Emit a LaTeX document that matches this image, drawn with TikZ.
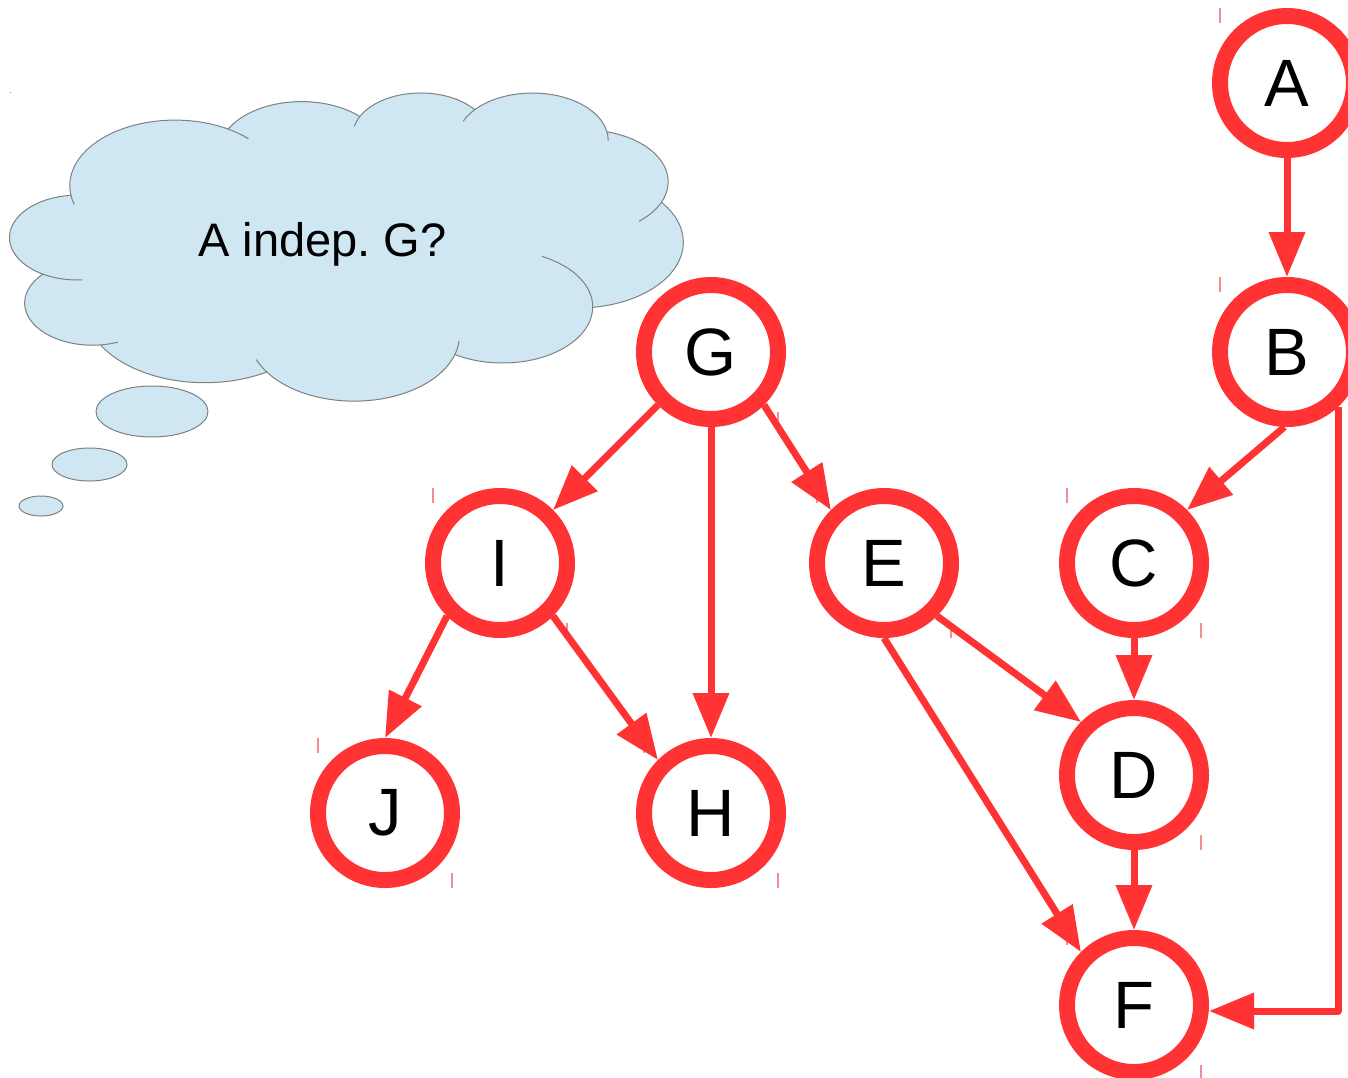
\documentclass[tikz,border=0pt]{standalone}
\usepackage{fontspec}
\setmainfont{Liberation Sans}
\usetikzlibrary{arrows.meta}

\definecolor{nodered}{RGB}{255,51,51}
\definecolor{tickred}{RGB}{244,140,146}
\definecolor{cloudfill}{RGB}{207,230,243}
\definecolor{cloudline}{RGB}{128,128,128}

% one crease of the cloud: centre, start angle, end angle, x radius, y radius
\newcommand\creasearc[5]{%
  \draw[cloudcrease] (#1) ++(#2:#4 and #5)
    arc[start angle=#2, end angle=#3, x radius=#4, y radius=#5];}

\begin{document}
\begin{tikzpicture}[x=0.5pt, y=-0.5pt,
  vertex/.style={circle, draw=nodered, line width=8pt, fill=white,
    minimum size=67pt, inner sep=0pt, font=\fontsize{33.5}{40}\selectfont},
  edge/.style={draw=nodered, line width=3.5pt, line join=round,
    -{Triangle[length=22.5pt,width=17.5pt]}},
  tickmark/.style={draw=tickred, line width=0.7pt},
  cloudbody/.style={fill=cloudfill, draw=cloudline, line width=0.5pt},
  cloudcrease/.style={draw=cloudline, line width=0.5pt}]

\fill[white] (0,0) rectangle (1348,1077);
\useasboundingbox (0,0) rectangle (1348,1077);

% small corner marks beside every vertex
\foreach \cx/\cy in {1287/83, 1287/352, 711/352, 500/563, 884/563,
                     1134/563, 1134/775, 385/813, 711/813, 1134/1005} {
  \draw[tickmark] (\cx-67,\cy-75) -- ++(0,15);
  \draw[tickmark] (\cx+67,\cy+60) -- ++(0,15);
}

% thought cloud, built from elliptical arcs (units of 100 in a 432 x 432 frame)
\begin{scope}[shift={(5pt,-46pt)}, x=0.77895pt, y=-0.3565pt]
  \path[cloudbody] (39.00,143.70)
    arc[start angle=-187.75, end angle=-59.64,  x radius=67.53, y radius=91.90]
    arc[start angle=-152.03, end angle=-45.455, x radius=53.33, y radius=72.67]
    arc[start angle=-153.49, end angle=-37.33,  x radius=43.65, y radius=59.45]
    arc[start angle=-139.71, end angle=-10.21,  x radius=48.57, y radius=65.95]
    arc[start angle=-74.77,  end angle=23.21,   x radius=53.33, y radius=72.73]
    arc[start angle=-37.53,  end angle=81.86,   x radius=67.75, y radius=92.20]
    arc[start angle=0.46,    end angle=121.97,  x radius=57.85, y radius=78.67]
    arc[start angle=16.84,   end angle=146.22,  x radius=67.52, y radius=92.15]
    arc[start angle=58.99,   end angle=150.19,  x radius=77.20, y radius=105.43]
    arc[start angle=-276.69, end angle=-136.88, x radius=43.60, y radius=59.18]
    arc[start angle=-239.64, end angle=-95.89,  x radius=43.45, y radius=59.45]
    -- cycle;
  \creasearc{43.141,204.185}{85.55}{120.36}{43.45}{59.45}
  \creasearc{52.995,295.938}{68.23}{83.31}{43.60}{59.18}
  \creasearc{220.955,341.448}{146.22}{158.48}{67.52}{92.15}
  \creasearc{220.955,341.448}{4.74}{16.84}{67.52}{92.15}
  \creasearc{316.209,301.404}{-64.03}{0.46}{57.85}{78.67}
  \creasearc{369.172,125.924}{23.21}{49.65}{53.33}{72.73}
  \creasearc{335.380,67.438}{-10.21}{0.82}{48.57}{65.95}
  \creasearc{335.380,67.438}{-156.29}{-139.71}{48.57}{65.95}
  \creasearc{263.625,60.839}{-167.72}{-153.49}{43.65}{59.45}
  \creasearc{105.913,131.307}{-59.64}{-45.74}{67.53}{91.90}
  \creasearc{105.913,131.307}{163.19}{172.25}{67.53}{91.90}
\end{scope}

% bubbles trailing from the cloud
\path[cloudbody] (152,411.5) ellipse[x radius=56, y radius=25.5];
\path[cloudbody] (89.5,464.5) ellipse[x radius=37.5, y radius=16.5];
\path[cloudbody] (41,506) ellipse[x radius=22, y radius=10];

% corner dots of the cloud frame
\fill[cloudline] (9.5,91.5) rectangle ++(1.5,1.5);
\fill[cloudline] (682.5,399.5) rectangle ++(1.5,1.5);

\node[anchor=base, inner sep=0pt, font=\fontsize{23.5}{28}\selectfont]
  (question) at (322.5,256) {A indep.\ G?};

% vertices
\node[vertex] (A) at (1287,83)   {A};
\node[vertex] (B) at (1287,352)  {B};
\node[vertex] (G) at (711,352)   {G};
\node[vertex] (I) at (500,563)   {I};
\node[vertex] (E) at (884,563)   {E};
\node[vertex] (C) at (1134,563)  {C};
\node[vertex] (D) at (1134,775)  {D};
\node[vertex] (J) at (385,813)   {J};
\node[vertex] (H) at (711,813)   {H};
\node[vertex] (F) at (1134,1005) {F};

% directed edges
\coordinate (bend) at (1338,1011);
\draw[edge] (A.south) -- (B.north);
\draw[edge] (B.-92)   -- (C.45);
\draw[edge] (B.-47)   |- (bend -| F.east);
\draw[edge] (G.-135)  -- (I.45);
\draw[edge] (G.south) -- (H.north);
\draw[edge] (G.-45)   -- (E.135);
\draw[edge] (I.-135)  -- (J.north);
\draw[edge] (I.-45)   -- (H.135);
\draw[edge] (E.-45)   -- (D.135);
\draw[edge] (E.south) -- (F.135);
\draw[edge] (C.south) -- (D.north);
\draw[edge] (D.south) -- (F.north);
\end{tikzpicture}
\end{document}
